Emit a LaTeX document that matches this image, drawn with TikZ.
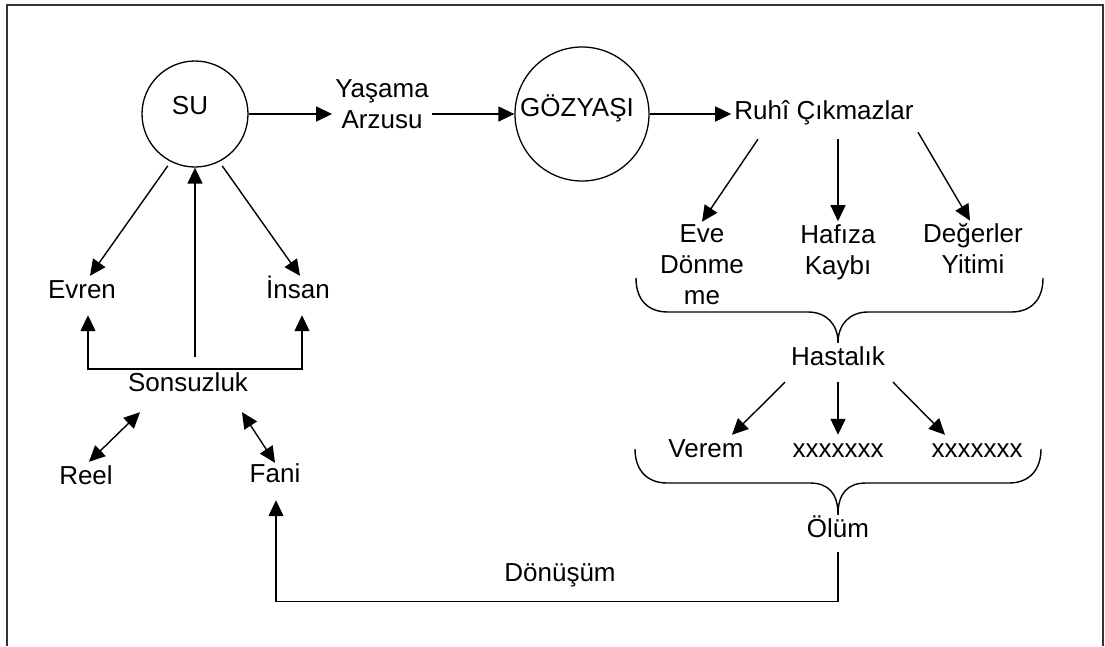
\documentclass[tikz,border=0pt]{standalone}
\usepackage{fontspec}
\setmainfont{Liberation Sans}
\usetikzlibrary{arrows.meta}
\begin{document}
\begin{tikzpicture}[x=1pt,y=-1pt,
  lbl/.style={font=\fontsize{26}{31}\selectfont, inner sep=3pt,
              text height=19pt, text depth=5pt},
  multi/.style={font=\fontsize{26}{31}\selectfont, inner sep=3pt, align=center},
  ring/.style={circle, draw, line width=1.3pt, inner sep=0pt},
  conn/.style={line width=1.4pt},
  tip/.tip={Triangle[length=16pt,width=15pt]},
  arr/.style={conn, -tip},
  arrboth/.style={conn, tip-tip},
  frame/.style={line width=1.8pt, black!80}]
\useasboundingbox (0,0) rectangle (1105,646);

% outer frame (open at the bottom)
\draw[frame] (7,646) -- (7,5) -- (1103,5) -- (1103,646);

% circles
\node[ring, minimum size=106pt,
      label={[lbl, xshift=-5pt, yshift=7pt]center:SU}] (su) at (195,114) {};
\node[ring, minimum size=134pt,
      label={[lbl, xshift=-5pt, yshift=5pt]center:GÖZYAŞI}] (goz) at (582,114) {};

% text nodes
\node[multi] (yasama) at (382,104) {Yaşama\\Arzusu};
\node[lbl] (ruhi) at (824,112) {Ruhî Çıkmazlar};
\node[multi] (eve) at (702,265) {Eve\\Dönme\\me};
\node[multi] (hafiza) at (838,252) {Hafıza\\Kaybı};
\node[multi] (degerler) at (973,249) {Değerler\\Yitimi};
\node[lbl] (hastalik) at (838,358) {Hastalık};
\node[lbl] (verem) at (706,450) {Verem};
\node[lbl] (xa) at (838,450) {xxxxxxx};
\node[lbl] (xb) at (977,450) {xxxxxxx};
\node[lbl] (olum) at (838,530) {Ölüm};
\node[lbl] (donusum) at (560,574) {Dönüşüm};
\node[lbl] (evren) at (82,291) {Evren};
\node[lbl] (insan) at (298,291) {İnsan};
\node[lbl] (sons) at (188,384) {Sonsuzluk};
\node[lbl] (reel) at (86,477) {Reel};
\node[lbl] (fani) at (275,475) {Fani};

% main chain
\draw[arr] (su.east) -- (su.east -| yasama.west);
\draw[arr] (yasama.east |- goz.west) -- (goz.west);
\draw[arr] (goz.east) -- (goz.east -| ruhi.west);

% Ruhî Çıkmazlar branches
\draw[arr] ([xshift=-66pt,yshift=-12pt]ruhi.south) -- (eve.north);
\draw[arr] ([xshift=14pt,yshift=-12pt]ruhi.south) -- (hafiza.north);
\draw[arr] ([xshift=94pt,yshift=-5pt]ruhi.south) -- ([xshift=-3pt]degerler.north);

% brace gathering into Hastalık
\draw[conn] (636,278) .. controls (636,300) and (648,312) .. (668,312)
  -- (808,312) .. controls (826,312) and (838,324) .. (hastalik.north);
\draw[conn] (1043,278) .. controls (1043,300) and (1031,312) .. (1011,312)
  -- (868,312) .. controls (850,312) and (838,324) .. (hastalik.north);

% Hastalık branches
\draw[arr] ([xshift=-53pt,yshift=-9pt]hastalik.south) -- ([xshift=26pt]verem.north);
\draw[arr] ([yshift=-9pt]hastalik.south) -- (xa.north);
\draw[arr] ([xshift=55pt,yshift=-9pt]hastalik.south) -- ([xshift=-32pt]xb.north);

% brace gathering into Ölüm
\draw[conn] (635,449) .. controls (635,470) and (647,483) .. (667,483)
  -- (810,483) .. controls (828,483) and (838,493) .. (olum.north);
\draw[conn] (1041,449) .. controls (1041,470) and (1029,483) .. (1009,483)
  -- (866,483) .. controls (848,483) and (838,493) .. (olum.north);

% Ölüm back to Fani
\draw[arr] ([yshift=-7pt]olum.south) -- ++(0,49) -| ([xshift=1pt,yshift=-10pt]fani.south);

% SU branches
\draw[arr, shorten <=5pt] (su.243) -- ([xshift=8pt]evren.north);
\draw[arr, shorten <=5pt] (su.297) -- ([xshift=2pt]insan.north);
\draw[arr] ([xshift=7pt,yshift=12pt]sons.north) -- (su.south);

% Sonsuzluk bracket
\draw[arr] (sons.north) -| ([xshift=6pt,yshift=-9pt]evren.south);
\draw[arr] (sons.north) -| ([xshift=4pt,yshift=-9pt]insan.south);

% Sonsuzluk two-way links
\draw[arrboth] ([xshift=-48pt,yshift=-13pt]sons.south) -- ([xshift=3pt]reel.north);
\draw[arrboth] ([xshift=54pt,yshift=-13pt]sons.south) -- ([yshift=-3pt]fani.north);
\end{tikzpicture}
\end{document}
